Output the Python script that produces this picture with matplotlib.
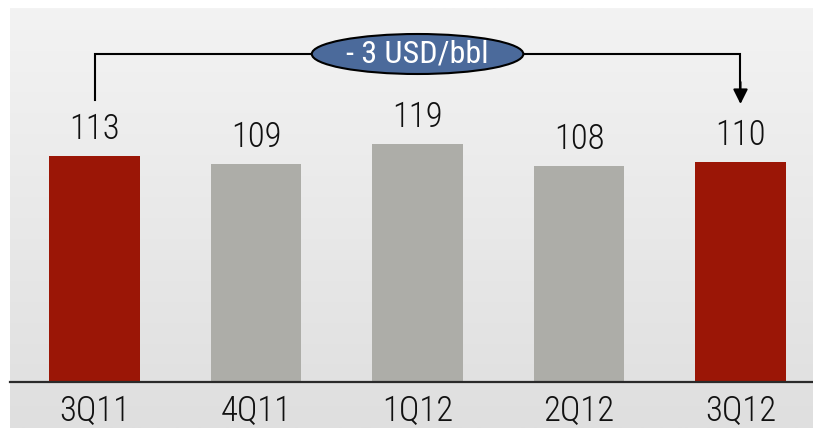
import matplotlib.pyplot as plt
import numpy as np
from matplotlib.colors import LinearSegmentedColormap
from matplotlib.patches import Ellipse

quarters = ['3Q11', '4Q11', '1Q12', '2Q12', '3Q12']
prices = [113, 109, 119, 108, 110]
highlight = [True, False, False, False, True]
change_label = '- 3 USD/bbl'

RED = '#9b1606'
GREY = '#adada8'

plt.rcParams['font.family'] = ['Roboto Condensed', 'DejaVu Sans']
plt.rcParams['font.weight'] = 'light'

fig = plt.figure(figsize=(8.13, 4.28), dpi=100)
fig.patch.set_facecolor('white')

# grey gradient panel behind the chart
bg = fig.add_axes([10 / 813, 0, 1 - 10 / 813, 420 / 428])
grad = np.linspace(0, 1, 256).reshape(-1, 1)
cmap = LinearSegmentedColormap.from_list('panel', ['#f3f3f3', '#dfdfdf'])
bg.imshow(grad, aspect='auto', cmap=cmap, extent=[0, 1, 0, 1], origin='upper')
bg.axis('off')

ax = fig.add_axes([10 / 813, 46 / 428, 1 - 10 / 813, 374 / 428])
ax.patch.set_alpha(0)
x = np.arange(len(quarters))
colors = [RED if h else GREY for h in highlight]
ax.bar(x, prices, width=0.56, color=colors, zorder=2)
ax.set_xlim(-0.524, len(quarters) - 0.551)
ax.set_ylim(0, 187)

for xi, v in zip(x, prices):
    ax.annotate(str(v), (xi, v), xytext=(0, 12), textcoords='offset points',
                ha='center', va='baseline', fontsize=25, color='#111111')

for s in ['top', 'right', 'left']:
    ax.spines[s].set_visible(False)
ax.spines['bottom'].set_linewidth(1.6)
ax.spines['bottom'].set_color('#2a2a2a')
ax.set_yticks([])
ax.set_xticks(x)
ax.set_xticklabels(quarters, fontsize=25, color='#111111')
ax.tick_params(axis='x', length=0, pad=9)

# bracket showing the change between first and last quarter
top_y = max(prices) + 45
ax.plot([x[0], x[0], x[-1], x[-1]], [prices[0] + 28, top_y, top_y, prices[-1] + 37],
        color='black', lw=1.5, zorder=3, solid_joinstyle='miter')
ax.annotate('', xy=(x[-1], prices[-1] + 29), xytext=(x[-1], prices[-1] + 40),
            arrowprops=dict(arrowstyle='-|>', color='black', lw=1.5,
                            mutation_scale=22, shrinkA=0, shrinkB=0), zorder=3)
mid = (x[0] + x[-1]) / 2
ax.add_patch(Ellipse((mid, top_y), 1.31, 20, facecolor='#4b6a9b', edgecolor='black',
                     lw=1.5, zorder=4))
ax.text(mid, top_y, change_label, ha='center', va='center', fontsize=23,
        fontweight='normal', color='white', zorder=5)

fig.savefig('out.png', dpi=100)
